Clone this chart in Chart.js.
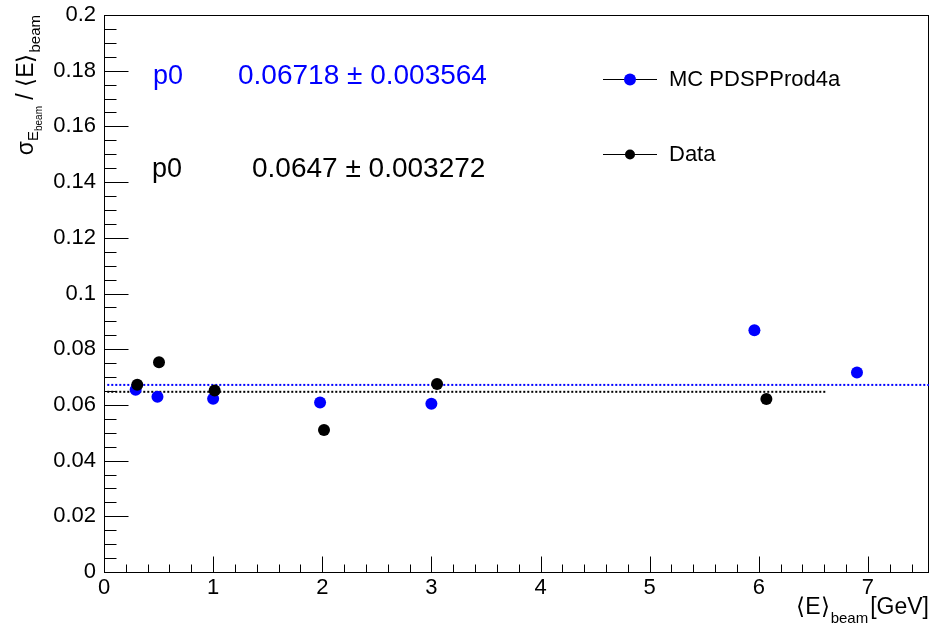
<!DOCTYPE html>
<html>
<head>
<meta charset="utf-8">
<script src="https://cdn.jsdelivr.net/npm/chart.js@4.4.1/dist/chart.umd.min.js"></script>
<style>
  html, body { margin: 0; padding: 0; background: #fff; }
  #wrap { width: 930px; height: 625px; }
</style>
</head>
<body>
<div id="wrap"><canvas id="c" width="930" height="625"></canvas></div>
<script>
// beam energy (GeV) and resolution sigma/E
const mcEnergy = [0.29, 0.49, 1.0, 1.98, 3.0, 5.96, 6.9];
const mcRes = [0.0654, 0.0629, 0.0622, 0.0609, 0.0604, 0.0868, 0.0716];
const dataEnergy = [0.305, 0.504, 1.014, 2.016, 3.052, 6.07];
const dataRes = [0.0672, 0.0753, 0.0652, 0.0510, 0.0675, 0.0621];

// constant fits p0
const mcFit = 0.06718;
const mcFitErr = 0.003564;
const dataFit = 0.0647;
const dataFitErr = 0.003272;
const mcFitRange = [0.03, 7.56];
const dataFitRange = [0.03, 6.62];

const xTicks = [0, 1, 2, 3, 4, 5, 6, 7];
const yTicks = [0, 0.02, 0.04, 0.06, 0.08, 0.1, 0.12, 0.14, 0.16, 0.18, 0.2];

const FONT = "'Liberation Sans', Arial, Helvetica, sans-serif";
const BLUE = "#0000ff";

Chart.defaults.font.family = FONT;
Chart.defaults.color = "#000";

const toPoints = (xs, ys) => xs.map((x, i) => ({ x: x, y: ys[i] }));

// ROOT-like frame with inward ticks
const frameTicks = {
    id: "frameTicks",
    beforeDatasetsDraw(chart) {
        const { ctx, chartArea: a, scales } = chart;
        const sx = scales.x, sy = scales.y;
        const px = (v) => Math.round(sx.getPixelForValue(v)) + 0.5;
        const py = (v) => Math.round(sy.getPixelForValue(v)) + 0.5;
        const L = Math.round(a.left) + 0.5, B = Math.round(a.bottom) + 0.5;
        ctx.save();
        ctx.strokeStyle = "#000";
        ctx.lineWidth = 1;
        ctx.strokeRect(L, Math.round(a.top) + 0.5, Math.round(a.right) - Math.round(a.left) - 1, Math.round(a.bottom) - Math.round(a.top));
        ctx.beginPath();
        for (let i = 0; i * 0.2 <= sx.max + 1e-9; i++) {
            const len = i % 5 === 0 ? 16 : 8;
            const x = px(i * 0.2);
            ctx.moveTo(x, B);
            ctx.lineTo(x, B - len);
        }
        for (let i = 0; i * 0.005 <= sy.max + 1e-9; i++) {
            const len = i % 4 === 0 ? 24 : 12;
            const y = py(i * 0.005);
            ctx.moveTo(L, y);
            ctx.lineTo(L + len, y);
        }
        ctx.stroke();
        ctx.restore();
    },
    afterDraw(chart) {
        const { ctx } = chart;
        ctx.save();

        // fit parameter boxes
        ctx.textBaseline = "alphabetic";
        ctx.textAlign = "left";
        ctx.font = "27px " + FONT;
        ctx.fillStyle = BLUE;
        ctx.fillText("p0", 153, 84);
        ctx.font = "28px " + FONT;
        ctx.fillText(mcFit + " \u00b1 " + mcFitErr, 238, 84);
        ctx.fillStyle = "#000";
        ctx.font = "27px " + FONT;
        ctx.fillText("p0", 152, 177);
        ctx.font = "28px " + FONT;
        ctx.fillText(dataFit + " \u00b1 " + dataFitErr, 252, 177);

        // legend
        const legend = [
            { label: "MC PDSPProd4a", color: BLUE, y: 79, r: 6 },
            { label: "Data", color: "#000", y: 154, r: 5 },
        ];
        legend.forEach((e) => {
            ctx.strokeStyle = "#000";
            ctx.lineWidth = 1;
            ctx.beginPath();
            ctx.moveTo(603, e.y + 0.5);
            ctx.lineTo(657, e.y + 0.5);
            ctx.stroke();
            ctx.fillStyle = e.color;
            ctx.beginPath();
            ctx.arc(630, e.y + 0.5, e.r, 0, Math.PI * 2);
            ctx.fill();
            ctx.fillStyle = "#000";
            ctx.font = "22px " + FONT;
            ctx.textBaseline = "middle";
            ctx.fillText(e.label, 669, e.y + 1);
        });

        // x axis title: <E>_beam [GeV]
        ctx.textBaseline = "alphabetic";
        ctx.textAlign = "left";
        ctx.fillStyle = "#000";
        ctx.font = "23px " + FONT;
        const gev = "[GeV]";
        const wGev = ctx.measureText(gev).width;
        ctx.font = "15px " + FONT;
        const wSub = ctx.measureText("beam").width;
        ctx.font = "23px " + FONT;
        const wE = ctx.measureText("\u27e8E\u27e9").width;
        let x0 = 929 - wGev - wSub - wE - 3;
        ctx.fillText("\u27e8E\u27e9", x0, 614);
        ctx.font = "15px " + FONT;
        ctx.fillText("beam", x0 + wE + 1, 623);
        ctx.font = "23px " + FONT;
        ctx.fillText(gev, 929 - wGev, 614);

        // y axis title: sigma_{E_beam} / <E>_beam (rotated)
        const parts = [
            { t: "\u03c3", f: 23, dy: 0, gap: 0 },
            { t: "E", f: 15, dy: 5, gap: 0 },
            { t: "beam", f: 10, dy: 9, gap: 0 },
            { t: " / ", f: 23, dy: 0, gap: 0 },
            { t: "\u27e8E\u27e9", f: 23, dy: 0, gap: 1 },
            { t: "beam", f: 15, dy: 7, gap: 0 },
        ];
        let total = 0;
        parts.forEach((p) => {
            ctx.font = p.f + "px " + FONT;
            p.w = ctx.measureText(p.t).width;
            total += p.w + p.gap;
        });
        ctx.translate(33, 15 + total);
        ctx.rotate(-Math.PI / 2);
        let cx = 0;
        parts.forEach((p) => {
            ctx.font = p.f + "px " + FONT;
            ctx.fillText(p.t, cx, p.dy);
            cx += p.w + p.gap;
        });
        ctx.restore();
    },
};

new Chart(document.getElementById("c"), {
    type: "scatter",
    data: {
        datasets: [
            {
                label: "Data",
                data: toPoints(dataEnergy, dataRes),
                backgroundColor: "#000",
                borderWidth: 0,
                pointRadius: 6,
                order: 0,
            },
            {
                label: "MC PDSPProd4a",
                data: toPoints(mcEnergy, mcRes),
                backgroundColor: BLUE,
                borderWidth: 0,
                pointRadius: 6,
                order: 1,
            },
            {
                label: "MC fit",
                type: "line",
                data: mcFitRange.map((x) => ({ x: x, y: mcFit })),
                borderColor: BLUE,
                borderWidth: 2,
                borderDash: [2, 2],
                pointRadius: 0,
                order: 2,
            },
            {
                label: "Data fit",
                type: "line",
                data: dataFitRange.map((x) => ({ x: x, y: dataFit })),
                borderColor: "#000",
                borderWidth: 2,
                borderDash: [2, 2],
                pointRadius: 0,
                order: 3,
            },
        ],
    },
    options: {
        responsive: false,
        animation: false,
        layout: { autoPadding: false, padding: { top: 15, right: 1, left: 0, bottom: 0 } },
        plugins: {
            legend: { display: false },
            tooltip: { enabled: false },
        },
        scales: {
            x: {
                type: "linear",
                min: 0,
                max: 7.56,
                afterBuildTicks: (scale) => {
                    scale.ticks = xTicks.map((v) => ({ value: v }));
                },
                afterFit: (scale) => {
                    scale.height = 53;
                    scale.paddingLeft = 0;
                    scale.paddingRight = 0;
                },
                grid: { display: false, drawTicks: false },
                border: { display: false },
                ticks: {
                    font: { size: 22 },
                    color: "#000",
                    padding: 3,
                    maxRotation: 0,
                    autoSkip: false,
                    callback: (v) => String(v),
                },
            },
            y: {
                type: "linear",
                min: 0,
                max: 0.2,
                afterBuildTicks: (scale) => {
                    scale.ticks = yTicks.map((v) => ({ value: v }));
                },
                afterFit: (scale) => {
                    scale.width = 104;
                    scale.paddingTop = 0;
                    scale.paddingBottom = 0;
                },
                grid: { display: false, drawTicks: false },
                border: { display: false },
                ticks: {
                    font: { size: 22 },
                    color: "#000",
                    padding: 8,
                    autoSkip: false,
                    callback: (v) => String(parseFloat(Number(v).toFixed(3))),
                },
            },
        },
    },
    plugins: [frameTicks],
});
</script>
</body>
</html>
